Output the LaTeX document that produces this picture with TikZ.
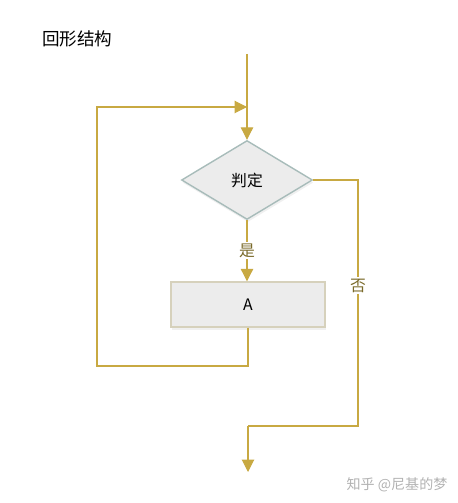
\documentclass[tikz,border=0pt]{standalone}
\usepackage{fontspec}
\newfontfamily\cjk{Noto Sans CJK SC}
\usetikzlibrary{shapes.geometric,arrows.meta,positioning,calc,shadows}

\definecolor{flowline}{HTML}{C8A942}
\definecolor{labeltext}{HTML}{7A6A2A}
\definecolor{boxfill}{HTML}{ECECEC}
\definecolor{diamondedge}{HTML}{A8BCBA}
\definecolor{boxedge}{HTML}{D6D1BC}

\tikzset{
    flow/.style={draw=flowline, line width=0.6pt},
    flowarrow/.style={flow, -{Triangle[width=0.25cm,length=0.25cm]}},
    decision/.style={diamond, draw=diamondedge, line width=0.8pt, fill=boxfill,
        minimum width=2.62cm, minimum height=1.58cm, inner sep=0pt,
        drop shadow={opacity=0.12, shadow xshift=0.5pt, shadow yshift=-1.5pt},
        font=\cjk\small},
    process/.style={rectangle, draw=boxedge, line width=0.8pt, fill=boxfill,
        minimum width=3.08cm, minimum height=0.9cm, inner sep=0pt,
        drop shadow={opacity=0.12, shadow xshift=0.5pt, shadow yshift=-1.5pt},
        font=\cjk\small},
    branchlabel/.style={font=\cjk\small, text=labeltext, fill=white, inner sep=1pt}
}

\begin{document}
\begin{tikzpicture}[x=0.02cm, y=-0.02cm]
    \useasboundingbox (0,0) rectangle (457,503);

    % Title
    \node[font=\cjk, anchor=west] (title) at (36,39) {回形结构};

    % Shapes
    \node[decision] (judge) at (247,180) {判定};
    \node[process] (body) at (248,304.5) {A};

    % Entry and loop back
    \coordinate (start) at (247,54);
    \coordinate (merge) at (247,107);
    \coordinate (loopleft) at (97,107);
    \coordinate (loopbottom) at (97,366);
    \draw[flow] (start) -- (merge);
    \draw[flowarrow] (merge) -- (judge.north);
    \draw[flowarrow] (body.south) |- (loopbottom) -- (loopleft) -- (merge);

    % Yes branch
    \draw[flowarrow] (judge.south) -- node[branchlabel] (yes) {是} (judge.south |- body.north);

    % No branch
    \coordinate (noright) at (358,180);
    \coordinate (nobottom) at (358,426);
    \coordinate (exitturn) at (248,426);
    \coordinate (exit) at (248,472);
    \draw[flow] (judge.east) -- (noright) -- node[branchlabel, pos=0.43] (no) {否} (nobottom) -- (exitturn);
    \draw[flowarrow] (exitturn) -- (exit);

    % Watermark
    \node[font=\cjk\footnotesize, text=black!30] (mark) at (397,485) {知乎 @尼基的梦};
\end{tikzpicture}
\end{document}
